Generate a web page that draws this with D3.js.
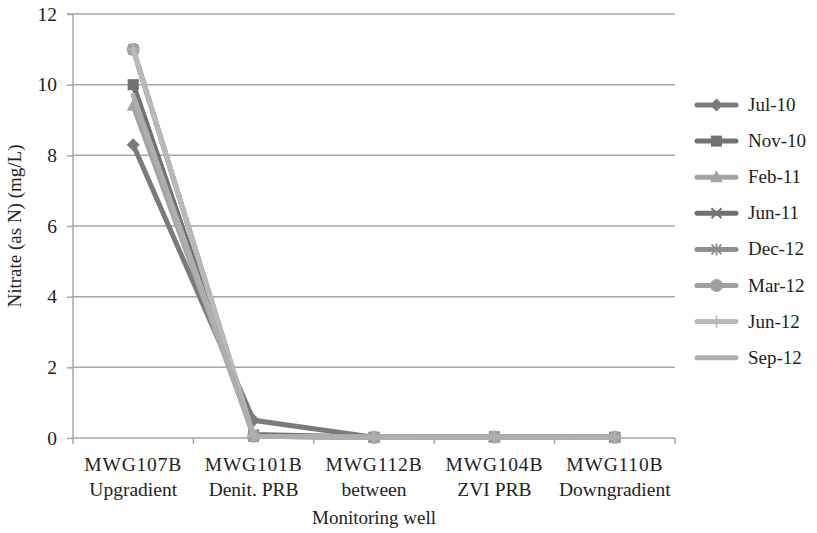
<!DOCTYPE html>
<html><head><meta charset="utf-8">
<script src="https://cdn.jsdelivr.net/npm/d3@7"></script>
<style>body{margin:0;background:#fff}svg text{font-family:"Liberation Serif","Times New Roman",serif;fill:#222}</style>
</head><body><svg id="c" width="817" height="533"></svg>
<script>
const wells = ["MWG107B","MWG101B","MWG112B","MWG104B","MWG110B"];
const wellNotes = ["Upgradient","Denit. PRB","between","ZVI PRB","Downgradient"];
const seriesNames = ["Jul-10","Nov-10","Feb-11","Jun-11","Dec-12","Mar-12","Jun-12","Sep-12"];
const jul10 = [8.3, 0.5, 0.02, 0.03, 0.02];
const nov10 = [10, 0.05, 0.02, 0.03, 0.02];
const feb11 = [9.4, 0.08, 0.02, 0.03, 0.02];
const jun11 = [10, 0.1, 0.02, 0.03, 0.02];
const dec12 = [11, 0.05, 0.02, 0.03, 0.02];
const mar12 = [11, 0.05, 0.02, 0.03, 0.02];
const jun12 = [11, 0.05, 0.02, 0.03, 0.02];
const sep12 = [9.7, 0.05, 0.02, 0.03, 0.02];
const yTicks = [0,2,4,6,8,10,12];
const colors = ["#7b7b7b","#727272","#a3a3a3","#717171","#8e8e8e","#a0a0a0","#b9b9b9","#aeaeae"];
const markers = ["diamond","square","triangle","x","asterisk","circle","plus","none"];
const allVals = [jul10,nov10,feb11,jun11,dec12,mar12,jun12,sep12];

const svg = d3.select("#c");
const L=73,R=675,T=14,B=438;
const x = d3.scaleBand().domain(wells).range([L,R]);
const y = d3.scaleLinear().domain([0,12]).range([B,T]);
const grid="#a6a6a6";

svg.append("g").selectAll("line").data(yTicks.filter(d=>d>0)).join("line")
  .attr("x1",L).attr("x2",R).attr("y1",d=>y(d)).attr("y2",d=>y(d))
  .attr("stroke",grid).attr("stroke-width",1.5);

const ya = svg.append("g").attr("transform",`translate(${L},0)`)
  .call(d3.axisLeft(y).tickValues(yTicks).tickSize(6).tickPadding(10));
ya.attr("font-family",null);
ya.select(".domain").attr("stroke",grid).attr("stroke-width",1.5).attr("d",`M-6,${y(12)}H0V${B}`);
ya.selectAll(".tick line").attr("stroke",grid).attr("stroke-width",1.5);
ya.selectAll(".tick text").style("font-size","19.5px").attr("fill","#222");

const xa = svg.append("g").attr("transform",`translate(0,${B})`)
  .call(d3.axisBottom(x).tickSize(0).tickFormat(""));
xa.select(".domain").attr("stroke",grid).attr("stroke-width",1.5).attr("d",`M${L},0H${R}`);
const bounds = wells.map(w=>x(w)).concat([R]);
svg.append("g").selectAll("line").data(bounds).join("line")
  .attr("x1",d=>d).attr("x2",d=>d).attr("y1",B).attr("y2",B+6)
  .attr("stroke",grid).attr("stroke-width",1.5);
const lab = svg.append("g").selectAll("text").data(wells).join("text")
  .attr("x",d=>x(d)+x.bandwidth()/2).attr("y",471).attr("text-anchor","middle")
  .style("font-size","19.5px");
lab.append("tspan").attr("x",d=>x(d)+x.bandwidth()/2).attr("letter-spacing","0.8").text(d=>d);
lab.append("tspan").attr("x",d=>x(d)+x.bandwidth()/2).attr("dy",25).text((d,i)=>wellNotes[i]);

svg.append("text").attr("x",(L+R)/2).attr("y",524).attr("text-anchor","middle")
  .style("font-size","19px").text("Monitoring well");
svg.append("text").attr("transform",`translate(21,${(T+B)/2}) rotate(-90)`).attr("text-anchor","middle")
  .style("font-size","19px").text("Nitrate (as N) (mg/L)");

function drawMarker(g,type,cx,cy,col){
  const s=5.5;
  if(type==="diamond") g.append("path").attr("d",`M${cx},${cy-6.5}L${cx+6.5},${cy}L${cx},${cy+6.5}L${cx-6.5},${cy}Z`).attr("fill",col);
  else if(type==="square") g.append("rect").attr("x",cx-s).attr("y",cy-s).attr("width",2*s).attr("height",2*s).attr("fill",col);
  else if(type==="triangle") g.append("path").attr("d",`M${cx},${cy-7}L${cx+6.5},${cy+5}L${cx-6.5},${cy+5}Z`).attr("fill",col);
  else if(type==="x") g.append("path").attr("d",`M${cx-5},${cy-5}L${cx+5},${cy+5}M${cx-5},${cy+5}L${cx+5},${cy-5}`).attr("stroke",col).attr("stroke-width",2);
  else if(type==="asterisk") g.append("path").attr("d",`M${cx-5},${cy-5}L${cx+5},${cy+5}M${cx-5},${cy+5}L${cx+5},${cy-5}M${cx},${cy-6}V${cy+6}`).attr("stroke",col).attr("stroke-width",1.8);
  else if(type==="circle") g.append("circle").attr("cx",cx).attr("cy",cy).attr("r",6.5).attr("fill",col);
  else if(type==="plus") g.append("path").attr("d",`M${cx-6},${cy}H${cx+6}M${cx},${cy-6}V${cy+6}`).attr("stroke",col).attr("stroke-width",1.5);
}

const line = d3.line().x((d,i)=>x(wells[i])+x.bandwidth()/2).y(d=>y(d));
allVals.forEach((vals,si)=>{
  const g = svg.append("g");
  g.append("path").attr("d",line(vals)).attr("fill","none").attr("stroke",colors[si])
    .attr("stroke-width",5).attr("stroke-linejoin","round").attr("stroke-linecap","round");
  vals.forEach((v,i)=>drawMarker(g,markers[si],x(wells[i])+x.bandwidth()/2,y(v),colors[si]));
});

const lg = svg.append("g");
seriesNames.forEach((n,i)=>{
  const ly = 105 + i*36.1;
  lg.append("line").attr("x1",697).attr("x2",736).attr("y1",ly).attr("y2",ly)
    .attr("stroke",colors[i]).attr("stroke-width",5).attr("stroke-linecap","round");
  drawMarker(lg,markers[i],716.5,ly,colors[i]);
  lg.append("text").attr("x",748).attr("y",ly+6).style("font-size","19px").text(n);
});
</script></body></html>
